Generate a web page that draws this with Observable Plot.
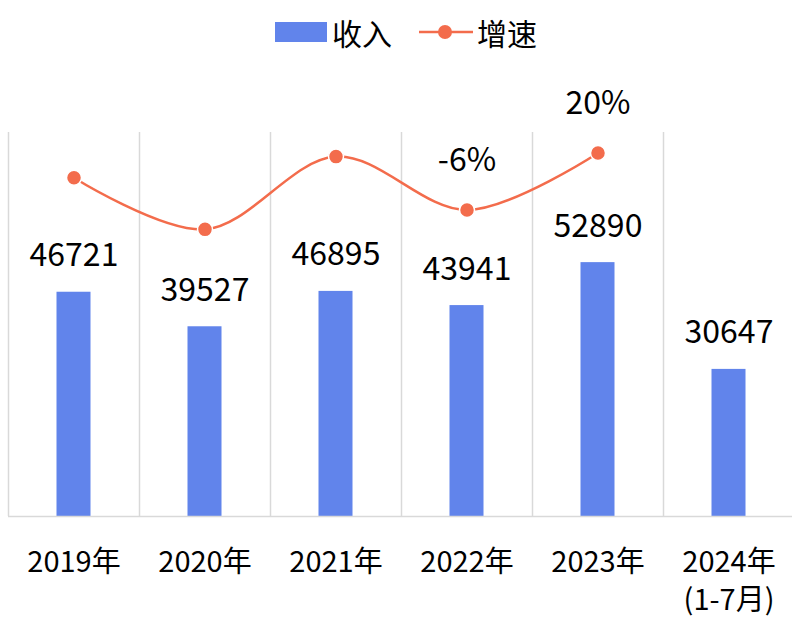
<!DOCTYPE html>
<html>
<head>
<meta charset="utf-8">
<script src="https://cdn.jsdelivr.net/npm/d3@7"></script>
<script src="https://cdn.jsdelivr.net/npm/@observablehq/plot@0.6"></script>
<style>
  html, body { margin: 0; padding: 0; background: #fff; overflow: hidden; }
  body { width: 792px; height: 624px; font-family: "Noto Sans CJK SC", "Noto Sans", sans-serif; color: #000; }
  #legend { position: relative; height: 62px; }
  #legend .sw { position: absolute; left: 275px; top: 22px; width: 52px; height: 20px; background: #6184EB; }
  #legend .lab { position: absolute; top: 17px; font-size: 30px; line-height: 30px; }
  #legend svg { position: absolute; left: 418px; top: 22px; }
</style>
</head>
<body>
<div id="legend">
  <div class="sw"></div>
  <span class="lab" style="left:332px">收入</span>
  <svg width="56" height="20"><line x1="1" x2="55" y1="10" y2="10" stroke="#F36C4C" stroke-width="2.5"/><circle cx="27" cy="10" r="7" fill="#F36C4C"/></svg>
  <span class="lab" style="left:477px">增速</span>
</div>
<div id="chart"></div>
<script>
const categories = ["2019年", "2020年", "2021年", "2022年", "2023年", "2024年\n(1-7月)"];
const revenue = [46721, 39527, 46895, 43941, 52890, 30647];
const growth = [8.8, -15.4, 18.7, -6.3, 20.4, null];
const growthLabelled = [false, false, false, true, true, false];
const growthAxisDomain = [-150, 30];
const revenueAxisDomain = [0, 80000];

const barColor = "#6184EB";
const lineColor = "#F36C4C";

const data = categories.map((c, i) => ({cat: c, rev: revenue[i], g: growth[i], lab: growthLabelled[i]}));
const lineData = data.filter(d => d.g != null);
const toPrimary = d3.scaleLinear().domain(growthAxisDomain).range(revenueAxisDomain);

const chart = Plot.plot({
  width: 792,
  height: 562,
  marginLeft: 8,
  marginRight: -2,
  marginTop: 70,
  marginBottom: 108,
  style: {fontFamily: "'Noto Sans CJK SC', 'Noto Sans', sans-serif", color: "#000", background: "#fff"},
  x: {domain: categories, padding: 0, axis: null, label: null},
  y: {domain: revenueAxisDomain, axis: null, label: null},
  marks: [
    Plot.ruleX(categories, {x: d => d, dx: -65.5, stroke: "#d9d9d9", strokeWidth: 1.5}),
    Plot.barY(data, {x: "cat", y: "rev", fill: barColor, insetLeft: 48.5, insetRight: 48.5}),
    Plot.ruleY([0], {stroke: "#d9d9d9", strokeWidth: 1.5}),
    Plot.text(data, {x: "cat", y: "rev", text: d => String(d.rev), lineAnchor: "bottom", dy: -26, fontSize: 32, fill: "#000"}),
    Plot.line(lineData, {x: "cat", y: d => toPrimary(d.g), stroke: lineColor, strokeWidth: 2.5, curve: "catmull-rom"}),
    Plot.dot(lineData, {x: "cat", y: d => toPrimary(d.g), r: 7.5, fill: lineColor, stroke: "#fff", strokeWidth: 1.5}),
    Plot.text(lineData.filter(d => d.lab), {x: "cat", y: d => toPrimary(d.g), text: d => Math.round(d.g) + "%", lineAnchor: "bottom", dy: -39, fontSize: 32, fill: "#000"}),
    Plot.axisX({domain: categories, label: null, tickSize: 0, tickPadding: 29, fontSize: 29, lineHeight: 1.31, fill: "#000", tickFormat: d => d})
  ]
});
document.getElementById("chart").appendChild(chart);
</script>
</body>
</html>
